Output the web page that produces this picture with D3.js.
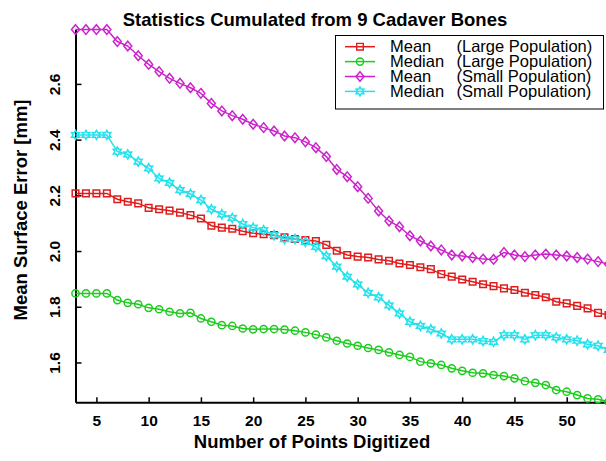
<!DOCTYPE html>
<html lang="en">
<head>
<meta charset="UTF-8">
<title>Statistics Cumulated from 9 Cadaver Bones</title>
<script src="https://d3js.org/d3.v7.min.js"></script>
<style>
  body { margin: 0; background: #fff; }
  svg text { font-family: "Liberation Sans", Arial, Helvetica, sans-serif; }
</style>
</head>
<body>
<svg id="chart" width="606" height="461"></svg>
<script>
// number of points digitized (x)
const pointsDigitized = [3, 4, 5, 6, 7, 8, 9, 10, 11, 12, 13, 14, 15, 16, 17, 18, 19, 20,
  21, 22, 23, 24, 25, 26, 27, 28, 29, 30, 31, 32, 33, 34, 35, 36, 37, 38, 39, 40,
  41, 42, 43, 44, 45, 46, 47, 48, 49, 50, 51, 52, 53, 54];

// mean surface error [mm]
const meanLarge = [2.207, 2.207, 2.207, 2.207, 2.186, 2.177, 2.171, 2.155, 2.150, 2.145,
  2.138, 2.129, 2.117, 2.091, 2.084, 2.080, 2.071, 2.064, 2.060, 2.057, 2.049, 2.043,
  2.039, 2.036, 2.022, 2.001, 1.986, 1.980, 1.977, 1.970, 1.965, 1.955, 1.950, 1.942,
  1.935, 1.917, 1.908, 1.898, 1.890, 1.881, 1.874, 1.866, 1.860, 1.850, 1.842, 1.834,
  1.818, 1.812, 1.803, 1.794, 1.778, 1.770];
const medianLarge = [1.848, 1.848, 1.848, 1.848, 1.824, 1.814, 1.809, 1.796, 1.791, 1.782,
  1.776, 1.778, 1.758, 1.746, 1.734, 1.731, 1.722, 1.719, 1.720, 1.720, 1.718, 1.714,
  1.708, 1.700, 1.690, 1.678, 1.668, 1.660, 1.652, 1.645, 1.636, 1.627, 1.620, 1.603,
  1.597, 1.591, 1.579, 1.570, 1.563, 1.561, 1.555, 1.551, 1.543, 1.533, 1.527, 1.519,
  1.501, 1.495, 1.483, 1.471, 1.468, 1.459];
const meanSmall = [2.795, 2.795, 2.795, 2.795, 2.752, 2.736, 2.701, 2.670, 2.644, 2.620,
  2.602, 2.586, 2.566, 2.530, 2.503, 2.486, 2.473, 2.455, 2.443, 2.431, 2.413, 2.407,
  2.392, 2.371, 2.339, 2.293, 2.267, 2.231, 2.189, 2.144, 2.108, 2.087, 2.055, 2.036,
  2.018, 2.004, 1.986, 1.982, 1.977, 1.971, 1.970, 1.995, 1.986, 1.980, 1.986, 1.989,
  1.986, 1.982, 1.977, 1.971, 1.962, 1.953];
const medianSmall = [2.417, 2.417, 2.417, 2.417, 2.357, 2.347, 2.321, 2.297, 2.261, 2.245,
  2.219, 2.205, 2.183, 2.150, 2.132, 2.119, 2.097, 2.084, 2.075, 2.057, 2.043, 2.043,
  2.033, 2.015, 1.982, 1.944, 1.908, 1.880, 1.850, 1.834, 1.805, 1.776, 1.746, 1.731,
  1.719, 1.704, 1.683, 1.683, 1.683, 1.677, 1.674, 1.698, 1.698, 1.683, 1.698, 1.698,
  1.690, 1.683, 1.678, 1.665, 1.660, 1.645];

const seriesNames = ["Mean", "Median", "Mean", "Median"];
const populations = ["(Large Population)", "(Large Population)", "(Small Population)", "(Small Population)"];
const xTicks = [5, 10, 15, 20, 25, 30, 35, 40, 45, 50];
const yTicks = [1.6, 1.8, 2.0, 2.2, 2.4, 2.6];

const series = [
  { values: meanLarge, color: "#e01c1c", marker: "square" },
  { values: medianLarge, color: "#1ccc1c", marker: "circle" },
  { values: meanSmall, color: "#cc22cc", marker: "diamond" },
  { values: medianSmall, color: "#22e2ee", marker: "hexagram" }
];

const svg = d3.select("#chart");

const x = d3.scaleLinear().domain([3, 54]).range([75.5, 608.5]);
const y = d3.scaleLinear().domain([1.457, 2.796]).range([402.3, 29.3]);

// marker shapes
function markerPath(type) {
  if (type === "square") return "M-3.3,-3.3H3.3V3.3H-3.3Z";
  if (type === "circle") return "M3.6,0A3.6,3.6 0 1,1 -3.6,0A3.6,3.6 0 1,1 3.6,0Z";
  if (type === "diamond") return "M0,-4.8L4,0L0,4.8L-4,0Z";
  // six pointed star
  let p = "";
  for (let i = 0; i < 12; i++) {
    const r = i % 2 === 0 ? 4.6 : 2.5;
    const a = Math.PI / 6 * i - Math.PI / 2;
    p += (i === 0 ? "M" : "L") + (r * Math.cos(a)).toFixed(2) + "," + (r * Math.sin(a)).toFixed(2);
  }
  return p + "Z";
}

// axes
const xAxis = svg.append("g")
  .attr("transform", "translate(0,402.3)")
  .call(d3.axisBottom(x).tickValues(xTicks).tickSize(-5).tickSizeOuter(0).tickPadding(13));
const yAxis = svg.append("g")
  .attr("transform", "translate(75.5,0)")
  .call(d3.axisLeft(y).tickValues(yTicks).tickSize(-6).tickSizeOuter(0).tickFormat(d3.format(".1f")));

[xAxis, yAxis].forEach(a => {
  a.select(".domain").attr("stroke", "#000").attr("stroke-width", 2);
  a.selectAll(".tick line").attr("stroke", "#000").attr("stroke-width", 1.5);
});
xAxis.selectAll(".tick text")
  .attr("fill", "#000").attr("font-size", 15.5).attr("font-weight", "bold")
  .attr("font-family", "Liberation Sans, Arial, sans-serif");
yAxis.selectAll(".tick text").remove();
yAxis.selectAll(".tick").append("text")
  .attr("transform", "translate(-15.5,0) rotate(-90)")
  .attr("text-anchor", "middle")
  .attr("fill", "#000").attr("font-size", 15.5).attr("font-weight", "bold")
  .text(d => d3.format(".1f")(d));

// lines and markers
const line = d3.line().x((d, i) => x(pointsDigitized[i])).y(d => y(d));
series.forEach(s => {
  svg.append("path")
    .attr("d", line(s.values))
    .attr("fill", "none")
    .attr("stroke", s.color)
    .attr("stroke-width", 1.5);
  svg.append("g").selectAll("path")
    .data(s.values)
    .join("path")
    .attr("transform", (d, i) => `translate(${x(pointsDigitized[i])},${y(d)})`)
    .attr("d", markerPath(s.marker))
    .attr("fill", "none")
    .attr("stroke", s.color)
    .attr("stroke-width", 1.5);
});

// titles
svg.append("text")
  .attr("x", 315).attr("y", 26)
  .attr("text-anchor", "middle")
  .attr("font-size", 18.5).attr("font-weight", "bold")
  .text("Statistics Cumulated from 9 Cadaver Bones");
svg.append("text")
  .attr("x", 312).attr("y", 448)
  .attr("text-anchor", "middle")
  .attr("font-size", 18.5).attr("font-weight", "bold")
  .text("Number of Points Digitized");
svg.append("text")
  .attr("transform", "translate(27,210) rotate(-90)")
  .attr("text-anchor", "middle")
  .attr("font-size", 18.5).attr("font-weight", "bold")
  .text("Mean Surface Error [mm]");

// legend
const legend = svg.append("g");
legend.append("rect")
  .attr("x", 335.5).attr("y", 35.5)
  .attr("width", 268).attr("height", 73.5)
  .attr("fill", "#fff").attr("stroke", "#000").attr("stroke-width", 1);
const rows = legend.selectAll("g.row")
  .data(series)
  .join("g")
  .attr("class", "row")
  .attr("transform", (d, i) => `translate(0,${46.7 + i * 14.9})`);
rows.append("line")
  .attr("x1", 345).attr("x2", 375)
  .attr("stroke", d => d.color).attr("stroke-width", 1.5);
rows.append("path")
  .attr("transform", "translate(360,0)")
  .attr("d", d => markerPath(d.marker))
  .attr("fill", "none").attr("stroke", d => d.color).attr("stroke-width", 1.4);
const label = rows.append("text")
  .attr("y", 5.5)
  .attr("font-size", 16.5);
label.append("tspan").attr("x", 390).text((d, i) => seriesNames[i]);
label.append("tspan").attr("x", 456.5).text((d, i) => populations[i]);
</script>
</body>
</html>
